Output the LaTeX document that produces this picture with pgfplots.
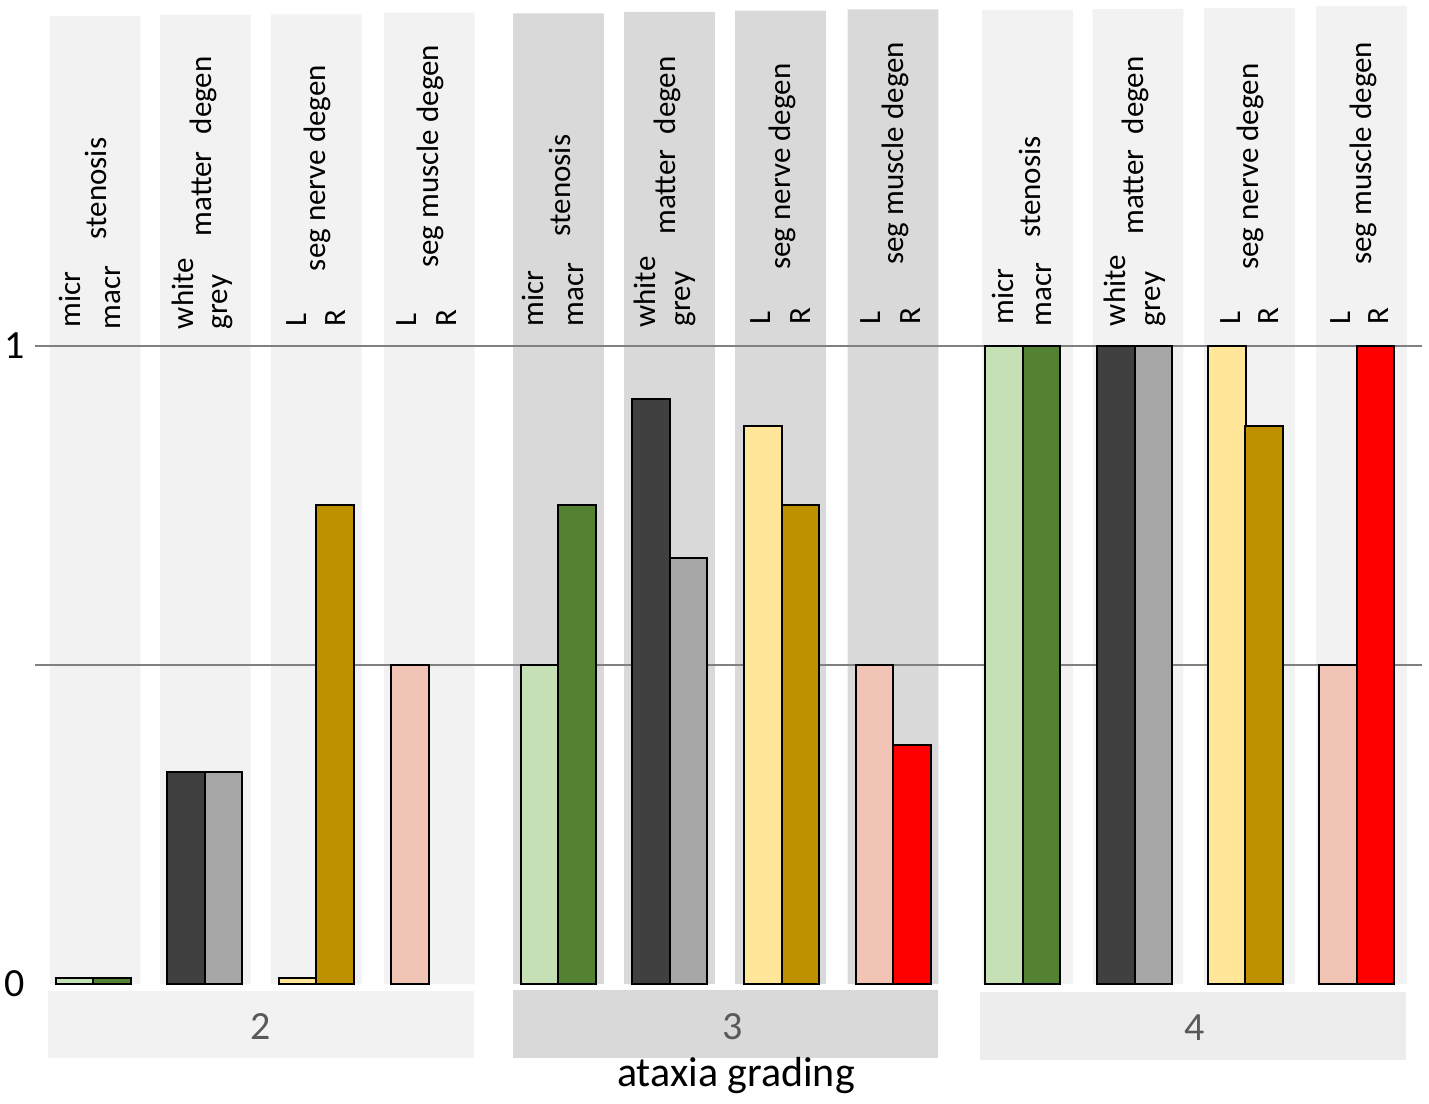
\documentclass[border=0pt]{standalone}
\usepackage{pgfplots}
\pgfplotsset{compat=1.18}
\usepackage{fontspec}
\setmainfont{Carlito}

\definecolor{cmicr}{HTML}{C5E0B4}
\definecolor{cmacr}{HTML}{548235}
\definecolor{cwhite}{HTML}{404040}
\definecolor{cgrey}{HTML}{A6A6A6}
\definecolor{cL}{HTML}{FFE699}
\definecolor{cR}{HTML}{BF9000}
\definecolor{cmL}{HTML}{F1C4B5}
\definecolor{cmR}{HTML}{FF0000}
\definecolor{panelA}{HTML}{F2F2F2}
\definecolor{panelB}{HTML}{D9D9D9}
\definecolor{panelC}{HTML}{EDEDED}
\definecolor{gridc}{HTML}{808080}
\definecolor{numc}{HTML}{595959}

\newcommand{\lblfont}{\fontsize{15.5}{18}\selectfont}
\newcommand{\bigfont}{\fontsize{20}{24}\selectfont}
\newcommand{\titlefont}{\fontsize{21}{25}\selectfont}
% rotated label: baseline x (px), start y (px), text
\newcommand{\lab}[3]{\node[rotate=90, anchor=base west, inner sep=0pt, font=\lblfont] at (axis cs:#1,{(984-#2)/638}) {#3};}

\begin{document}
\begin{tikzpicture}
\begin{axis}[
  scale only axis,
  width=714.5pt, height=551.5pt,
  xmin=0, xmax=1429,
  ymin=-0.18652, ymax=1.54232,
  enlargelimits=false,
  axis line style={draw=none},
  tick style={draw=none},
  major tick length=0pt,
  xtick=\empty,
  ytick={0,1},
  yticklabels={0,1},
  yticklabel style={anchor=center, inner sep=0pt, outer sep=0pt, xshift=7.5pt, font=\bigfont},
  clip=false,
]
% background panels
\addplot[ybar, bar width=90.7, bar shift=0pt, fill=panelA, draw=none]
  coordinates {(95,1.5172) (205.3,1.5188) (316.3,1.5199) (429.2,1.5224)};
\addplot[ybar, bar width=90.7, bar shift=0pt, fill=panelB, draw=none]
  coordinates {(558.5,1.5215) (669.5,1.5235) (780.5,1.5256) (893,1.5277)};
\addplot[ybar, bar width=90.7, bar shift=0pt, fill=panelA, draw=none]
  coordinates {(1027.5,1.5266) (1138,1.5282) (1249.5,1.5298) (1361.5,1.5329)};
% category boxes
\addplot[fill=panelA, draw=none] coordinates {(48,-0.011) (474,-0.011) (474,-0.116) (48,-0.116)} -- cycle;
\addplot[fill=panelB, draw=none] coordinates {(513,-0.0094) (938,-0.0094) (938,-0.116) (513,-0.116)} -- cycle;
\addplot[fill=panelC, draw=none] coordinates {(980,-0.0125) (1406,-0.0125) (1406,-0.119) (980,-0.119)} -- cycle;
% grid lines
\addplot[gridc, line width=0.75pt] coordinates {(35,0.5) (1422,0.5)};
\addplot[gridc, line width=0.75pt] coordinates {(35,1) (1422,1)};
% bars
\pgfplotsset{mybar/.style={ybar, bar width=37.5, bar shift=0pt, draw=black, line width=1pt}}
\addplot[mybar, fill=cmicr] coordinates {(74.7,0.01) (539.5,0.5) (1004,1)};
\addplot[mybar, fill=cmacr] coordinates {(112.2,0.01) (577,0.75) (1041.5,1)};
\addplot[mybar, fill=cwhite] coordinates {(186,0.333) (651,0.917) (1116,1)};
\addplot[mybar, fill=cgrey] coordinates {(223.7,0.333) (688.5,0.667) (1153.5,1)};
\addplot[mybar, fill=cL] coordinates {(297.5,0.01) (763,0.875) (1227,1)};
\addplot[mybar, fill=cR] coordinates {(334.8,0.75) (800.5,0.75) (1264,0.875)};
\addplot[mybar, fill=cmL] coordinates {(409.8,0.5) (874.5,0.5) (1338,0.5)};
\addplot[mybar, fill=cmR] coordinates {(912,0.375) (1375.5,1)};
% labels group 2
\lab{80.7}{328}{micr}
\lab{120}{329.5}{macr}
\lab{106.7}{239.5}{stenosis}
\lab{193}{329.5}{white}
\lab{227}{329.5}{grey}
\lab{211.7}{236.5}{matter}
\lab{211.7}{134.5}{degen}
\lab{306.7}{326.5}{L}
\lab{345}{326.5}{R}
\lab{325}{271.5}{seg nerve degen}
\lab{416.7}{326.5}{L}
\lab{456.7}{326.5}{R}
\lab{438.3}{268}{seg muscle degen}
% labels group 3
\lab{543.3}{326.5}{micr}
\lab{583.3}{326.5}{macr}
\lab{570}{236.5}{stenosis}
\lab{655}{328}{white}
\lab{690}{326.5}{grey}
\lab{675}{235}{matter}
\lab{675}{134.5}{degen}
\lab{770}{325}{L}
\lab{810}{325}{R}
\lab{790}{270}{seg nerve degen}
\lab{880}{325}{L}
\lab{920}{325}{R}
\lab{903.3}{265}{seg muscle degen}
% labels group 4
\lab{1013.3}{325}{micr}
\lab{1051.7}{326.5}{macr}
\lab{1040}{238}{stenosis}
\lab{1125}{326.5}{white}
\lab{1160}{326.5}{grey}
\lab{1143.3}{235}{matter}
\lab{1143.3}{134.5}{degen}
\lab{1240}{325}{L}
\lab{1278.3}{325}{R}
\lab{1258.3}{270}{seg nerve degen}
\lab{1350}{325}{L}
\lab{1388.3}{325}{R}
\lab{1371.7}{265}{seg muscle degen}
% category numbers and title
\node[anchor=base, inner sep=0pt, font=\bigfont, text=numc] at (axis cs:261,-0.0867) {2};
\node[anchor=base, inner sep=0pt, font=\bigfont, text=numc] at (axis cs:733,-0.0867) {3};
\node[anchor=base, inner sep=0pt, font=\bigfont, text=numc] at (axis cs:1195,-0.089) {4};
\node[anchor=base, inner sep=0pt, font=\titlefont] at (axis cs:736,-0.161) {ataxia grading};
\end{axis}
\end{tikzpicture}
\end{document}
